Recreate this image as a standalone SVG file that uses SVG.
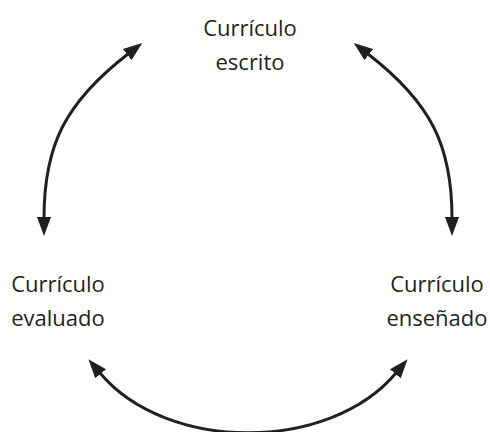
<svg xmlns="http://www.w3.org/2000/svg" width="490" height="432" viewBox="0 0 490 432">
<style>
.lbl{font-family:"Open Sans","Noto Sans",sans-serif;font-size:22px;fill:#231f20;text-anchor:middle}
.arc{fill:none;stroke:#231f20;stroke-width:3}
</style>
<defs>
<marker id="ah" markerUnits="userSpaceOnUse" markerWidth="22" markerHeight="16" viewBox="0 -8 22 16" refX="1" refY="0" orient="auto-start-reverse">
<path d="M0,-7 L19,0 L0,7 z" fill="#231f20"/>
</marker>
</defs>
<rect width="490" height="432" fill="#fff"/>
<g id="escrito"><text class="lbl" x="250" y="36">Currículo</text><text class="lbl" x="250" y="70">escrito</text></g>
<g id="evaluado"><text class="lbl" x="58" y="292">Currículo</text><text class="lbl" x="58" y="326">evaluado</text></g>
<g id="ensenado"><text class="lbl" x="437" y="292">Currículo</text><text class="lbl" x="437" y="326">enseñado</text></g>
<g id="connectors">
<path class="arc" d="M128,54 C64.8,102.8 44,146 44,218" marker-start="url(#ah)" marker-end="url(#ah)"/>
<path class="arc" d="M368,54 C431.2,102.8 452,146 452,218" marker-start="url(#ah)" marker-end="url(#ah)"/>
<path class="arc" d="M100,373 C167,452.7 329,452.7 396,373" marker-start="url(#ah)" marker-end="url(#ah)"/>
</g>
</svg>
